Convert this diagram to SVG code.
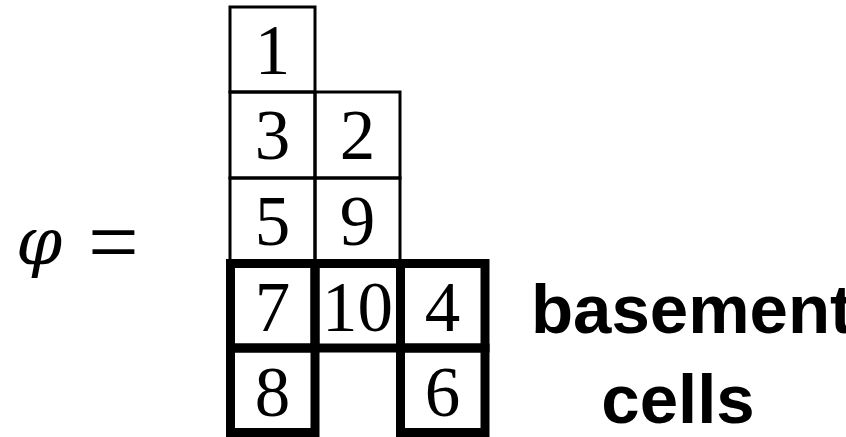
<svg xmlns="http://www.w3.org/2000/svg" width="846" height="437" viewBox="0 0 846 437">
<style>
.thin{fill:none;stroke:#000;stroke-width:3}
.thick{fill:none;stroke:#000;stroke-width:9;stroke-linejoin:miter}
.num{font-family:"Liberation Serif","DejaVu Serif",serif;font-size:71px;text-anchor:middle;fill:#000}
.math{font-family:"DejaVu Serif","Liberation Serif",serif;font-style:italic;font-size:66px;fill:#000}
.eq{font-family:"Liberation Serif","DejaVu Serif",serif;font-size:90px;fill:#000}
.lbl{font-family:"Liberation Sans","Arial",sans-serif;font-weight:bold;font-size:69px;text-anchor:middle;fill:#000}
</style>
<rect width="846" height="437" fill="#fff"/>
<g id="lhs">
<text class="math" x="16" y="264">φ</text>
<text class="eq" x="88" y="272" transform="translate(0,-10) scale(1,1.04)">=</text>
</g>
<g id="cell1"><rect class="thin" x="230" y="7" width="85" height="85"/><text class="num" x="272.5" y="74">1</text></g>
<g id="cell3"><rect class="thin" x="230" y="92" width="85" height="86"/><text class="num" x="272.5" y="159">3</text></g>
<g id="cell2"><rect class="thin" x="315" y="92" width="85" height="86"/><text class="num" x="357.5" y="159">2</text></g>
<g id="cell5"><rect class="thin" x="230" y="178" width="85" height="85"/><text class="num" x="272.5" y="245">5</text></g>
<g id="cell9"><rect class="thin" x="315" y="178" width="85" height="85"/><text class="num" x="357.5" y="245">9</text></g>
<g id="cell7"><rect class="thick" x="230.5" y="263.5" width="84.5" height="84.5"/><text class="num" x="272.5" y="331">7</text></g>
<g id="cell10"><rect class="thick" x="315" y="263.5" width="85.5" height="84.5"/><text class="num" x="357.5" y="331">10</text></g>
<g id="cell4"><rect class="thick" x="400.5" y="263.5" width="84.5" height="84.5"/><text class="num" x="442.5" y="331">4</text></g>
<g id="cell8"><rect class="thick" x="230.5" y="348" width="84.5" height="84.5"/><text class="num" x="272.5" y="416">8</text></g>
<g id="cell6"><rect class="thick" x="400.5" y="348" width="84.5" height="84.5"/><text class="num" x="442.5" y="416">6</text></g>
<g id="label">
<text class="lbl" x="692" y="333">basement</text>
<text class="lbl" x="678" y="423">cells</text>
</g>
<g id="connectors"></g>
</svg>
